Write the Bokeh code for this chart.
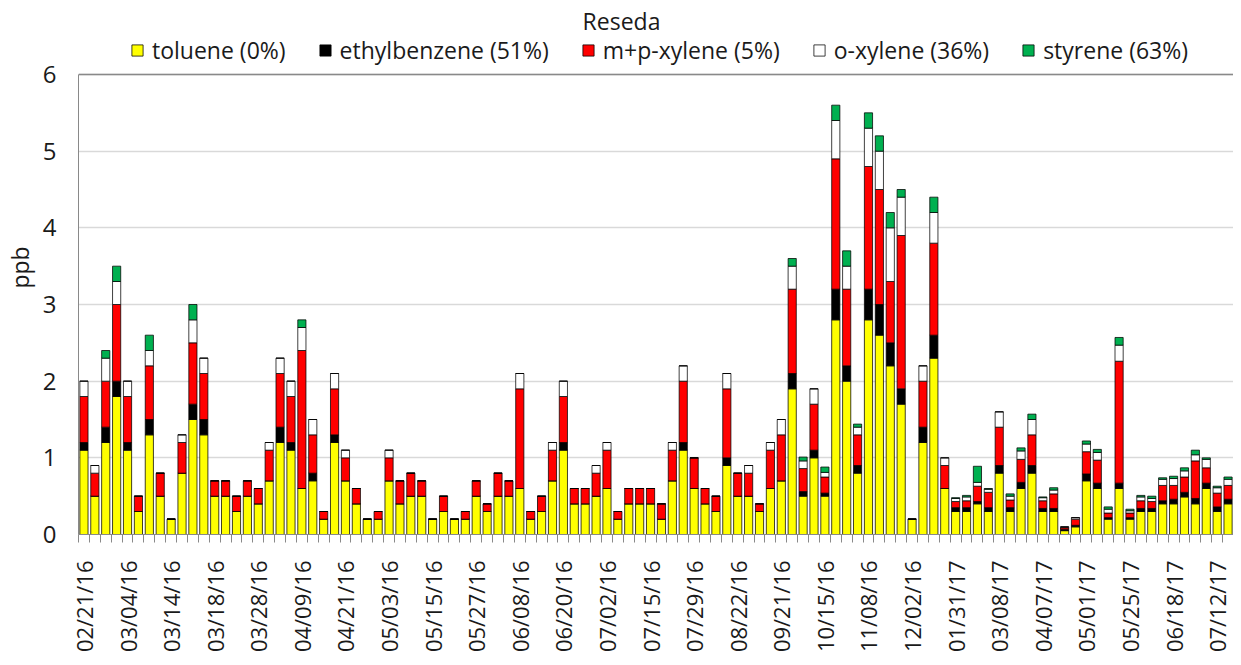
from bokeh.plotting import figure
from bokeh.models import (ColumnDataSource, Range1d, FixedTicker, Legend, LegendItem, Label, Span)
from bokeh.embed import file_html
from bokeh.resources import INLINE
from math import pi

FONT = "Open Sans"

series_names = ["toluene (0%)", "ethylbenzene (51%)", "m+p-xylene (5%)", "o-xylene (36%)", "styrene (63%)"]
series_colors = ["#ffff00", "#000000", "#ff0000", "#ffffff", "#00b050"]

tick_labels = ["02/21/16", "03/04/16", "03/14/16", "03/18/16", "03/28/16", "04/09/16", "04/21/16",
               "05/03/16", "05/15/16", "05/27/16", "06/08/16", "06/20/16", "07/02/16", "07/15/16",
               "07/29/16", "08/22/16", "09/21/16", "10/15/16", "11/08/16", "12/02/16", "01/31/17",
               "03/08/17", "04/07/17", "05/01/17", "05/25/17", "06/18/17", "07/12/17"]

toluene = [1.1, 0.5, 1.2, 1.8, 1.1, 0.3, 1.3, 0.5, 0.2, 0.8,
           1.5, 1.3, 0.5, 0.5, 0.3, 0.5, 0.4, 0.7, 1.2, 1.1,
           0.6, 0.7, 0.2, 1.2, 0.7, 0.4, 0.2, 0.2, 0.7, 0.4,
           0.5, 0.5, 0.2, 0.3, 0.2, 0.2, 0.5, 0.3, 0.5, 0.5,
           0.6, 0.2, 0.3, 0.7, 1.1, 0.4, 0.4, 0.5, 0.6, 0.2,
           0.4, 0.4, 0.4, 0.2, 0.7, 1.1, 0.6, 0.4, 0.3, 0.9,
           0.5, 0.5, 0.3, 0.6, 0.7, 1.9, 0.5, 1.0, 0.5, 2.8,
           2.0, 0.8, 2.8, 2.6, 2.2, 1.7, 0.2, 1.2, 2.3, 0.6,
           0.3, 0.3, 0.4, 0.3, 0.8, 0.3, 0.6, 0.8, 0.3, 0.3,
           0.05, 0.1, 0.7, 0.6, 0.2, 0.6, 0.2, 0.3, 0.3, 0.4,
           0.4, 0.49, 0.4, 0.6, 0.3, 0.4]
ethylbenzene = [0.1, 0, 0.2, 0.2, 0.1, 0, 0.2, 0, 0, 0,
                0.2, 0.2, 0, 0, 0, 0, 0, 0, 0.2, 0.1,
                0, 0.1, 0, 0.1, 0, 0, 0, 0, 0, 0,
                0, 0, 0, 0, 0, 0, 0, 0, 0, 0,
                0, 0, 0, 0, 0.1, 0, 0, 0, 0, 0,
                0, 0, 0, 0, 0, 0.1, 0, 0, 0, 0.1,
                0, 0, 0, 0, 0, 0.2, 0.06, 0.1, 0.04, 0.4,
                0.2, 0.1, 0.4, 0.4, 0.3, 0.2, 0, 0.2, 0.3, 0,
                0.05, 0.05, 0.03, 0.05, 0.1, 0.05, 0.08, 0.1, 0.04, 0.04,
                0.02, 0.02, 0.09, 0.07, 0.02, 0.07, 0.02, 0.04, 0.04, 0.04,
                0.06, 0.06, 0.07, 0.07, 0.06, 0.06]
mp_xylene = [0.6, 0.3, 0.6, 1.0, 0.6, 0.2, 0.7, 0.3, 0, 0.4,
             0.8, 0.6, 0.2, 0.2, 0.2, 0.2, 0.2, 0.4, 0.7, 0.6,
             1.8, 0.5, 0.1, 0.6, 0.3, 0.2, 0, 0.1, 0.3, 0.3,
             0.3, 0.2, 0, 0.2, 0, 0.1, 0.2, 0.1, 0.3, 0.2,
             1.3, 0.1, 0.2, 0.4, 0.6, 0.2, 0.2, 0.3, 0.5, 0.1,
             0.2, 0.2, 0.2, 0.2, 0.4, 0.8, 0.4, 0.2, 0.2, 0.9,
             0.3, 0.3, 0.1, 0.5, 0.6, 1.1, 0.3, 0.6, 0.21, 1.7,
             1.0, 0.4, 1.6, 1.5, 0.8, 2.0, 0, 0.6, 1.2, 0.3,
             0.08, 0.09, 0.2, 0.2, 0.5, 0.1, 0.3, 0.4, 0.1, 0.19,
             0.02, 0.08, 0.29, 0.3, 0.06, 1.59, 0.06, 0.1, 0.09, 0.2,
             0.18, 0.2, 0.49, 0.2, 0.18, 0.18]
o_xylene = [0.2, 0.1, 0.3, 0.3, 0.2, 0, 0.2, 0, 0, 0.1,
            0.3, 0.2, 0, 0, 0, 0, 0, 0.1, 0.2, 0.2,
            0.3, 0.2, 0, 0.2, 0.1, 0, 0, 0, 0.1, 0,
            0, 0, 0, 0, 0, 0, 0, 0, 0, 0,
            0.2, 0, 0, 0.1, 0.2, 0, 0, 0.1, 0.1, 0,
            0, 0, 0, 0, 0.1, 0.2, 0, 0, 0, 0.2,
            0, 0.1, 0, 0.1, 0.2, 0.3, 0.1, 0.2, 0.06, 0.5,
            0.3, 0.1, 0.5, 0.5, 0.7, 0.5, 0, 0.2, 0.4, 0.1,
            0.04, 0.05, 0.05, 0.04, 0.2, 0.05, 0.11, 0.2, 0.04, 0.05,
            0.01, 0.02, 0.1, 0.1, 0.05, 0.21, 0.03, 0.05, 0.04, 0.08,
            0.09, 0.08, 0.08, 0.11, 0.07, 0.08]
styrene = [0, 0, 0.1, 0.2, 0, 0, 0.2, 0, 0, 0,
           0.2, 0, 0, 0, 0, 0, 0, 0, 0, 0,
           0.1, 0, 0, 0, 0, 0, 0, 0, 0, 0,
           0, 0, 0, 0, 0, 0, 0, 0, 0, 0,
           0, 0, 0, 0, 0, 0, 0, 0, 0, 0,
           0, 0, 0, 0, 0, 0, 0, 0, 0, 0,
           0, 0, 0, 0, 0, 0.1, 0.05, 0, 0.07, 0.2,
           0.2, 0.04, 0.2, 0.2, 0.2, 0.1, 0, 0, 0.2, 0,
           0.01, 0.02, 0.21, 0.01, 0, 0.03, 0.04, 0.07, 0.01, 0.03,
           0, 0, 0.04, 0.04, 0.03, 0.1, 0.02, 0.02, 0.03, 0.02,
           0.03, 0.04, 0.06, 0.02, 0.02, 0.03]

n = len(toluene)
keys = ["toluene", "ethylbenzene", "mp_xylene", "o_xylene", "styrene"]
src = ColumnDataSource(dict(x=list(range(n)), toluene=toluene, ethylbenzene=ethylbenzene,
                            mp_xylene=mp_xylene, o_xylene=o_xylene, styrene=styrene))

W, H = 1233, 657
BL, BR, BT, BB = 70, 0, 0, 123
frame_h = H - BT - BB          # 534 px; value 6 sits 74 px below the frame top
y_top = 6 + 74 * 6 / (frame_h - 74)

p = figure(width=W, height=H, x_range=Range1d(-0.5, n - 0.5), y_range=Range1d(0, y_top),
           output_backend="svg", toolbar_location=None, title=None,
           min_border_left=BL, min_border_right=BR, min_border_bottom=BB, min_border_top=BT)

renderers = p.vbar_stack(keys, x="x", width=0.75, source=src,
                         fill_color=series_colors, line_color="black", line_width=0.75)

legend = Legend(items=[LegendItem(label=nm, renderers=[r]) for nm, r in zip(series_names, renderers)],
                orientation="horizontal", location=(52, frame_h - 50.5 - 15),
                glyph_width=14, glyph_height=14, label_standoff=8, spacing=32,
                label_text_font=FONT, label_text_font_size="23px", label_text_color="#1a1a1a",
                padding=0, margin=0, border_line_color=None, background_fill_alpha=0)
p.add_layout(legend, "center")

p.add_layout(Label(x=543, y=frame_h - 20, x_units="screen", y_units="screen",
                   text="Reseda", text_align="center", text_baseline="alphabetic",
                   text_font=FONT, text_font_size="23px", text_color="#1a1a1a"))

label_idx = list(range(0, n, 4))
xa = p.xaxis[0]
xa.ticker = FixedTicker(ticks=label_idx, minor_ticks=[i - 0.5 for i in range(n + 1)])
xa.major_label_overrides = {i: lbl for i, lbl in zip(label_idx, tick_labels)}
xa.major_label_orientation = pi / 2
xa.major_tick_out = 0
xa.major_tick_in = 0
xa.minor_tick_out = 8
xa.minor_tick_in = 0
xa.minor_tick_line_color = "#898989"
xa.axis_line_color = "#898989"
xa.major_label_standoff = 18
xa.major_label_text_font = FONT
xa.major_label_text_font_size = "22px"
xa.major_label_text_color = "#1a1a1a"

ya = p.yaxis[0]
ya.ticker = FixedTicker(ticks=[0, 1, 2, 3, 4, 5, 6])
ya.bounds = (0, 6)
ya.major_tick_out = 0
ya.major_tick_in = 0
ya.minor_tick_out = 0
ya.minor_tick_in = 0
ya.axis_line_color = "#898989"
ya.major_label_standoff = 22
ya.major_label_text_font = FONT
ya.major_label_text_font_size = "24px"
ya.major_label_text_color = "#1a1a1a"
ya.axis_label = "ppb"
ya.axis_label_text_font = FONT
ya.axis_label_text_font_size = "23px"
ya.axis_label_text_font_style = "normal"
ya.axis_label_text_color = "#1a1a1a"
ya.axis_label_standoff = 4

p.xgrid.visible = False
p.ygrid.grid_line_color = "#d9d9d9"
p.ygrid.grid_line_width = 1.5
p.outline_line_color = None
p.add_layout(Span(location=6, dimension="width", line_color="#898989", line_width=1.5))

open("out.html", "w").write(file_html(p, INLINE))
